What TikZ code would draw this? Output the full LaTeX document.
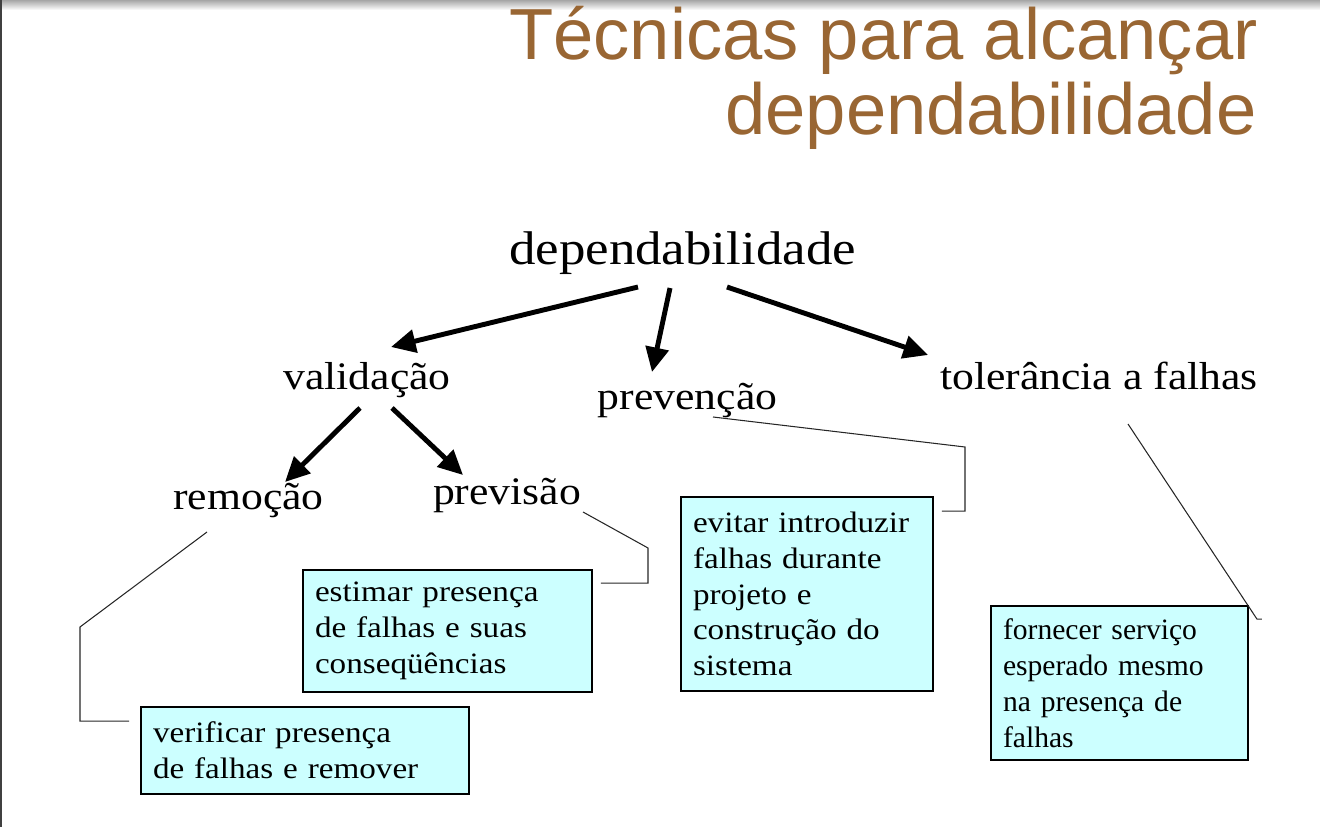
\documentclass[tikz,border=0pt]{standalone}
\usepackage{fontspec}
\setmainfont{Liberation Serif}
\newfontfamily\palfont[FakeStretch=1.12]{Liberation Serif}
\newfontfamily\titlefont{Liberation Sans}
\usetikzlibrary{arrows.meta, calc}
\definecolor{titlebrown}{RGB}{153,102,51}
\definecolor{boxcyan}{RGB}{204,255,255}

\tikzset{
  term/.style={anchor=base, inner sep=0pt, font=\palfont\fontsize{22.2}{26}\selectfont},
  arrow/.style={line width=2.8pt, -{Triangle[length=14pt,width=13pt]}},
  infobox/.style={draw, line width=1.1pt, fill=boxcyan, align=left, inner xsep=0.24cm, inner ysep=0pt,
    font=\palfont\fontsize{16.85}{20.4}\selectfont},
  callout/.style={line width=0.6pt, black!85},
  heading/.style={anchor=base east, inner sep=0pt, text=titlebrown, font=\titlefont\fontsize{41.2}{48}\selectfont}
}

\begin{document}
\begin{tikzpicture}[x=0.02cm, y=-0.02cm]
  \useasboundingbox (0,0) rectangle (1320,827);
  % slide edges
  \shade[top color=black!35, bottom color=white] (0,0) rectangle (1320,10);
  \fill[black!75] (0,0) rectangle (2,827);

  \node[heading] (title1) at (1258,60) {Técnicas para alcançar};
  \node[heading] (title2) at (1257,135) {dependabilidade};

  \node[term, font=\palfont\fontsize{26.9}{30}\selectfont] (dep) at (682.5,265) {dependabilidade};
  \node[term] (val) at (367,390) {validação};
  \node[term] (prev) at (687.5,410) {prevenção};
  \node[term] (tol) at (1099,390) {tolerância a falhas};
  \node[term] (rem) at (248.5,510) {remoção};
  \node[term] (prv) at (507,505) {previsão};

  \node[infobox, text width=6.08cm, minimum height=1.74cm] (ver) at (305,750.5)
    {verificar presença\\de falhas e remover};
  \node[infobox, text width=5.30cm, minimum height=2.44cm] (est) at (447.5,631)
    {estimar presença\\de falhas e suas\\conseqüências};
  \node[infobox, text width=4.56cm, minimum height=3.88cm] (evi) at (807,594)
    {evitar introduzir\\falhas durante\\projeto e\\construção do\\sistema};
  \node[infobox, text width=4.66cm, minimum height=3.08cm, font=\rmfamily\fontsize{16.85}{20.4}\selectfont] (forn) at (1119.5,683)
    {fornecer serviço\\esperado mesmo\\na presença de\\falhas};

  % tree
  \draw[arrow] ($(dep.base)+(-44.5,22)$) -- ($(val.base)+(24,-43)$);
  \draw[arrow] ($(dep.base)+(-12.5,23)$) -- ($(prev.base)+(-35.5,-38)$);
  \draw[arrow] ($(dep.base)+(44.5,22)$) -- ($(tol.base)+(-171,-35)$);
  \draw[arrow] ($(val.base)+(-7,18)$) -- ($(rem.base)+(36.5,-28)$);
  \draw[arrow] ($(val.base)+(25,18)$) -- ($(prv.base)+(-44,-30)$);

  % callouts
  \draw[callout] ($(rem.base)+(-41.5,22)$) -- ++(-127,95) |- ($(ver.north west)+(-11,15)$);
  \draw[callout] ($(prv.base)+(76,7)$) -- ++(65,36) |- ($(est.north east)+(8,14)$);
  \draw[callout] ($(prev.base)+(25.5,7)$) -- ++(252,30) |- ($(evi.north east)+(8,15)$);
  \draw[callout] ($(tol.base)+(29,34)$) -- ($(forn.north east)+(8,14)$) -- ++(5,0);
\end{tikzpicture}
\end{document}
